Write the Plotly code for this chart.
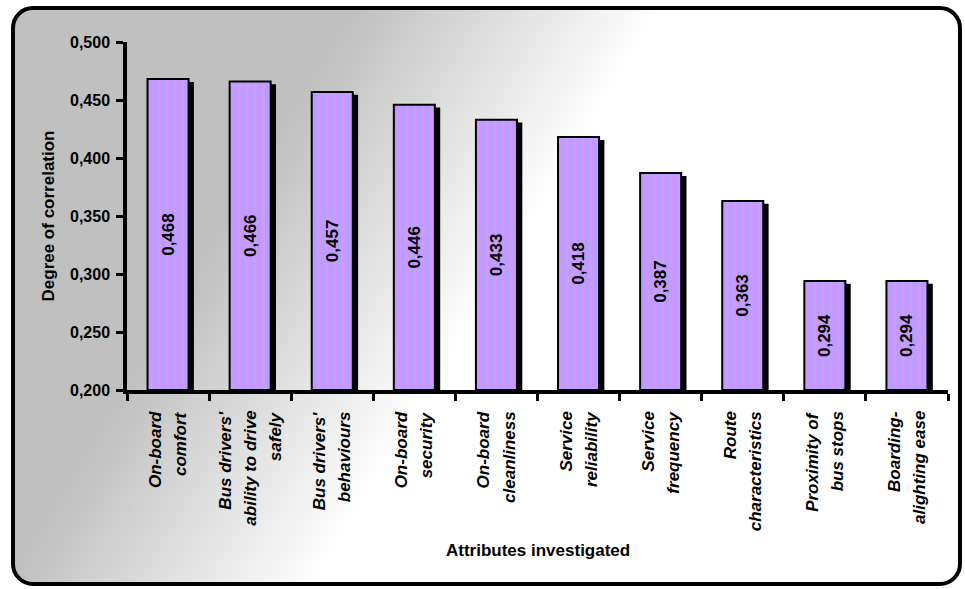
import base64
import plotly.graph_objects as go

# ---- data ----
categories = ["On-board comfort", "Bus drivers' ability to drive safely",
              "Bus drivers' behaviours", "On-board security", "On-board cleanliness",
              "Service reliability", "Service frequency", "Route characteristics",
              "Proximity of bus stops", "Boarding-alighting ease"]
label_lines = [["On-board", "comfort"],
               ["Bus drivers'", "ability to drive", "safely"],
               ["Bus drivers'", "behaviours"],
               ["On-board", "security"],
               ["On-board", "cleanliness"],
               ["Service", "reliability"],
               ["Service", "frequency"],
               ["Route", "characteristics"],
               ["Proximity of", "bus stops"],
               ["Boarding-", "alighting ease"]]
values = [0.468, 0.466, 0.457, 0.446, 0.433, 0.418, 0.387, 0.363, 0.294, 0.294]
y_ticks = [0.200, 0.250, 0.300, 0.350, 0.400, 0.450, 0.500]
y_min, y_max = 0.200, 0.500

FONT = "Liberation Sans, Arial, sans-serif"
W, H = 965, 589
ML, MR, MT, MB = 127, 17, 42, 199
PW, PH = W - ML - MR, H - MT - MB

# background rounded frame with diagonal gradient (SVG image)
svg = f'''<svg xmlns="http://www.w3.org/2000/svg" width="{W}" height="{H}" viewBox="0 0 {W} {H}">
<defs><linearGradient id="g" gradientUnits="userSpaceOnUse" x1="265" y1="160" x2="490" y2="296">
<stop offset="0" stop-color="#c0c0c0"/><stop offset="1" stop-color="#ffffff"/></linearGradient></defs>
<rect x="13" y="8" width="947" height="576" rx="20" ry="20" fill="url(#g)" stroke="#000" stroke-width="4"/>
</svg>'''
src = "data:image/svg+xml;base64," + base64.b64encode(svg.encode()).decode()

heights = [v - y_min for v in values]
shadow_heights = [v - y_min - 0.0025 for v in values]
texts = [f"{v:.3f}".replace(".", ",") for v in values]

fig = go.Figure()
# shadow
fig.add_trace(go.Bar(
    x=categories, y=shadow_heights, base=y_min, width=0.5, offset=-0.185,
    marker=dict(color="black", line=dict(width=0)), hoverinfo="skip", showlegend=False))
# bars
fig.add_trace(go.Bar(
    x=categories, y=heights, base=y_min, width=0.5, offset=-0.25,
    text=texts, textposition="inside", insidetextanchor="middle", textangle=-90,
    constraintext="none",
    insidetextfont=dict(family=FONT, size=17, color="black", weight="bold"),
    marker=dict(color="#cc99ff",
                pattern=dict(shape="|", fgcolor="#a3a3ff", bgcolor="#cc99ff",
                             size=8, solidity=0.45),
                line=dict(color="black", width=2)),
    showlegend=False))

annotations = []
for cat, lines in zip(categories, label_lines):
    n = len(lines)
    for i, ln in enumerate(lines):
        annotations.append(dict(
            x=cat, xref="x", y=0, yref="paper", yanchor="top", xanchor="center",
            yshift=-19, xshift=(i - (n - 1) / 2) * 25, textangle=-90, showarrow=False,
            text=ln, font=dict(family=FONT, size=17, color="black", weight="bold", style="italic")))
annotations.append(dict(
    x=0.5, xref="paper", y=-(550 - MT - PH) / PH, yref="paper", yanchor="middle",
    showarrow=False, text="Attributes investigated",
    font=dict(family=FONT, size=17, color="black", weight="bold")))

fig.update_layout(
    width=W, height=H, margin=dict(l=ML, r=MR, t=MT, b=MB),
    paper_bgcolor="white", plot_bgcolor="rgba(0,0,0,0)",
    barmode="overlay", bargap=0.5,
    images=[dict(source=src, xref="paper", yref="paper",
                 x=-ML / PW, y=1 + MT / PH, sizex=W / PW, sizey=H / PH,
                 xanchor="left", yanchor="top", sizing="stretch", layer="below")],
    annotations=annotations,
    xaxis=dict(showline=True, linecolor="black", linewidth=3.5, ticks="outside",
               tickson="boundaries", ticklen=7, tickwidth=3, tickcolor="black",
               showticklabels=False, showgrid=False, zeroline=False,
               range=[-0.5, len(categories) - 0.5]),
    yaxis=dict(range=[y_min, y_max], tickvals=y_ticks,
               ticktext=[f"{t:.3f}".replace(".", ",") for t in y_ticks],
               showline=True, linecolor="black", linewidth=3.5, ticks="outside",
               ticklen=7, tickwidth=3, tickcolor="black", ticklabelstandoff=3,
               tickfont=dict(family=FONT, size=16, color="black", weight="bold"),
               showgrid=False, zeroline=False,
               title=dict(text="Degree of correlation", standoff=12,
                          font=dict(family=FONT, size=17, color="black", weight="bold"))),
)

fig.write_html("out.html")
